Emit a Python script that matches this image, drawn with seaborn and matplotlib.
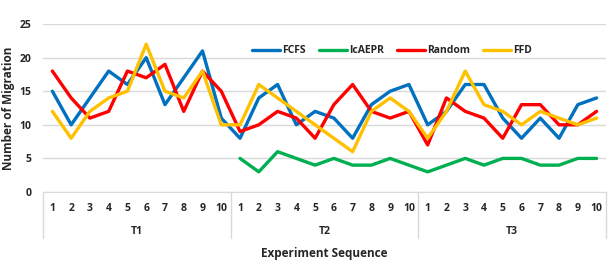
import numpy as np
import pandas as pd
import seaborn as sns
import matplotlib.pyplot as plt
import matplotlib.transforms as mtransforms


"""
1. Values read off the chart
"""
groups = ['T1', 'T2', 'T3']
runs = list(range(1, 11))

fcfs = [15, 10, 14, 18, 16, 20, 13, 17, 21, 11,
        8, 14, 16, 10, 12, 11, 8, 13, 15, 16,
        10, 12, 16, 16, 11, 8, 11, 8, 13, 14]
icaepr = [np.nan] * 10 + [5, 3, 6, 5, 4, 5, 4, 4, 5, 4,
                          3, 4, 5, 4, 5, 5, 4, 4, 5, 5]
random_ = [18, 14, 11, 12, 18, 17, 19, 12, 18, 15,
           9, 10, 12, 11, 8, 13, 16, 12, 11, 12,
           7, 14, 12, 11, 8, 13, 13, 10, 10, 12]
ffd = [12, 8, 12, 14, 15, 22, 15, 14, 18, 10,
       10, 16, 14, 12, 10, 8, 6, 12, 14, 12,
       8, 12, 18, 13, 12, 10, 12, 11, 10, 11]

series_names = ['FCFS', 'IcAEPR', 'Random', 'FFD']
colors = ['#0070C0', '#00B050', '#FF0000', '#FFC000']

# long format table for seaborn
pos = np.arange(len(fcfs))
df = pd.DataFrame({'pos': np.tile(pos, 4),
                   'value': fcfs + icaepr + random_ + ffd,
                   'method': np.repeat(series_names, len(pos))})


"""
2. Plot
"""
sns.set_style('white')
plt.rcParams['font.family'] = ['Open Sans', 'DejaVu Sans']
plt.rcParams['font.weight'] = 'bold'
plt.rcParams['text.color'] = '#262626'
plt.rcParams['xtick.color'] = '#262626'
plt.rcParams['ytick.color'] = '#262626'

fig = plt.figure(figsize=(6.09, 2.64), dpi=100)
ax = fig.add_axes([0.0706, 0.2727, 0.9244, 0.6363])

sns.lineplot(data=df, x='pos', y='value', hue='method',
             hue_order=series_names, palette=colors,
             linewidth=2.4, ax=ax)

ax.set_xlim(-0.5, len(pos) - 0.5)
ax.set_ylim(0, 25)
ax.set_yticks(range(0, 26, 5))
ax.yaxis.grid(True, color='#D9D9D9', linewidth=1)
ax.tick_params(axis='y', length=0, labelsize=7.5, pad=8.5)
for s in ['top', 'right', 'left']:
    ax.spines[s].set_visible(False)
ax.spines['bottom'].set_color('#D9D9D9')

# run numbers as x ticks, repeated per group
ax.set_xticks(pos)
ax.set_xticklabels([str(r) for g in groups for r in runs])
ax.tick_params(axis='x', length=0, labelsize=7.5, pad=8)

# group labels and separators below the axis
trans = mtransforms.blended_transform_factory(ax.transData, ax.transAxes)
for k, g in enumerate(groups):
    ax.text(k * 10 + 4.5, -0.238, g, transform=trans,
            ha='center', va='center', fontsize=7.5, fontweight='bold')
for b in [-0.5, 9.5, 19.5, 29.5]:
    ax.plot([b, b], [0, -0.275], transform=trans, color='#D9D9D9',
            linewidth=1, clip_on=False)

ax.set_xlabel('Experiment Sequence', fontsize=8.5, fontweight='bold',
              labelpad=24)
ax.set_ylabel('Number of Migration', fontsize=8.5, fontweight='bold',
              labelpad=3)

ax.legend(loc='upper center', bbox_to_anchor=(0.62, 0.93), ncol=4,
          frameon=False, fontsize=7.5, handlelength=2.7,
          columnspacing=1.25, handletextpad=0.2)

plt.savefig('out.png', dpi=100)
